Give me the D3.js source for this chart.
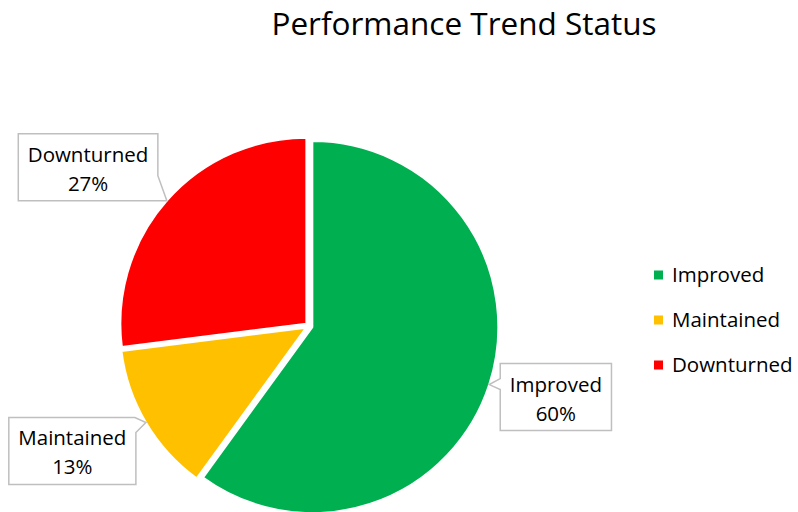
<!DOCTYPE html>
<html>
<head>
<meta charset="utf-8">
<script src="https://cdn.jsdelivr.net/npm/d3@7"></script>
<style>
  body { margin: 0; background: #fff; }
  svg text { font-family: "Open Sans", "Noto Sans", sans-serif; fill: #000; }
</style>
</head>
<body>
<div class="pie-container"></div>
<script>
// chart values
const categories = ["Improved", "Maintained", "Downturned"];
const percents = [60, 13, 27];
const colors = ["#00B050", "#FFC000", "#FF0000"];
const chartTitle = "Performance Trend Status";

const svg_width = 798;
const svg_height = 512;
const radius = 186;
const explode = 3.5;
const center = {x: 309, y: 326};
const labelSize = '20.5px';

const svg = d3.select('.pie-container').append('svg')
  .attr('width', svg_width).attr('height', svg_height);

svg.append('text')
  .attr('x', 464).attr('y', 35)
  .attr('text-anchor', 'middle')
  .style('font-size', '31.5px')
  .text(chartTitle);

const pieData = categories.map((c, i) => ({name: c, value: percents[i], color: colors[i]}));

const pie = d3.pie().sort(null).value(d => d.value);
const arc = d3.arc().innerRadius(0).outerRadius(radius);
const arcs = pie(pieData);

// direction of the middle of a slice, y down
function dir(a){
  const mid = (a.startAngle + a.endAngle) / 2;
  return [Math.sin(mid), -Math.cos(mid)];
}

const g = svg.append('g').attr('transform', `translate(${center.x},${center.y})`);

g.selectAll('.slice').data(arcs).join('path')
  .attr('class', 'slice')
  .attr('transform', d => {
    const [dx, dy] = dir(d);
    return `translate(${dx*explode},${dy*explode})`;
  })
  .attr('d', arc)
  .style('fill', d => d.data.color)
  .style('stroke', '#fff')
  .style('stroke-width', 2)
  .style('stroke-linejoin', 'round');

// callouts: tip sits on the slice edge at mid angle
const calloutLayout = {
  Improved:   {side: 'left',     gap: 11, dy: -21},
  Maintained: {side: 'topright', gap: 10, dy: -5},
  Downturned: {side: 'botright', gap: 9,  dy: 0}
};
const boxH = 67;
const pad = 9.5;

const callouts = svg.append('g').attr('class', 'callouts');

arcs.forEach(a => {
  const [dx, dy] = dir(a);
  const tip = [center.x + dx*(radius + explode), center.y + dy*(radius + explode)];
  const lay = calloutLayout[a.data.name];
  const cg = callouts.append('g');
  const path = cg.append('path');
  const t1 = cg.append('text').attr('text-anchor', 'middle').style('font-size', labelSize).text(a.data.name);
  const t2 = cg.append('text').attr('text-anchor', 'middle').style('font-size', labelSize).text(a.data.value + '%');
  const w = Math.max(t1.node().getComputedTextLength(), t2.node().getComputedTextLength()) + pad*2;

  let x0, y0, d;
  if (lay.side === 'left'){
    x0 = tip[0] + lay.gap; y0 = tip[1] + lay.dy;
    d = `M${x0},${y0}H${x0+w}V${y0+boxH}H${x0}V${tip[1]+5}L${tip[0]},${tip[1]}L${x0},${tip[1]-6}Z`;
  } else if (lay.side === 'topright'){
    x0 = tip[0] - lay.gap - w; y0 = tip[1] + lay.dy;
    d = `M${x0},${y0}H${x0+w-1}L${tip[0]},${tip[1]}L${x0+w},${y0+15}V${y0+boxH}H${x0}Z`;
  } else {
    x0 = tip[0] - lay.gap - w; y0 = tip[1] - boxH + lay.dy;
    d = `M${x0},${y0}H${x0+w}V${y0+42}L${tip[0]},${tip[1]}H${x0}Z`;
  }
  path.attr('d', d)
    .style('fill', '#fff')
    .style('stroke', '#BFBFBF')
    .style('stroke-width', 1.5);
  t1.attr('x', x0 + w/2).attr('y', y0 + 28);
  t2.attr('x', x0 + w/2).attr('y', y0 + 57);
});

// legend
const legend = svg.append('g').attr('class', 'legend')
  .attr('transform', 'translate(654,275)');
const items = legend.selectAll('g').data(pieData).join('g')
  .attr('transform', (d, i) => `translate(0,${i*45})`);
items.append('rect')
  .attr('x', 0).attr('y', -4.5).attr('width', 9).attr('height', 9)
  .style('fill', d => d.color);
items.append('text')
  .attr('x', 18).attr('y', 0).attr('dy', '0.35em')
  .style('font-size', labelSize)
  .text(d => d.name);
</script>
</body>
</html>
